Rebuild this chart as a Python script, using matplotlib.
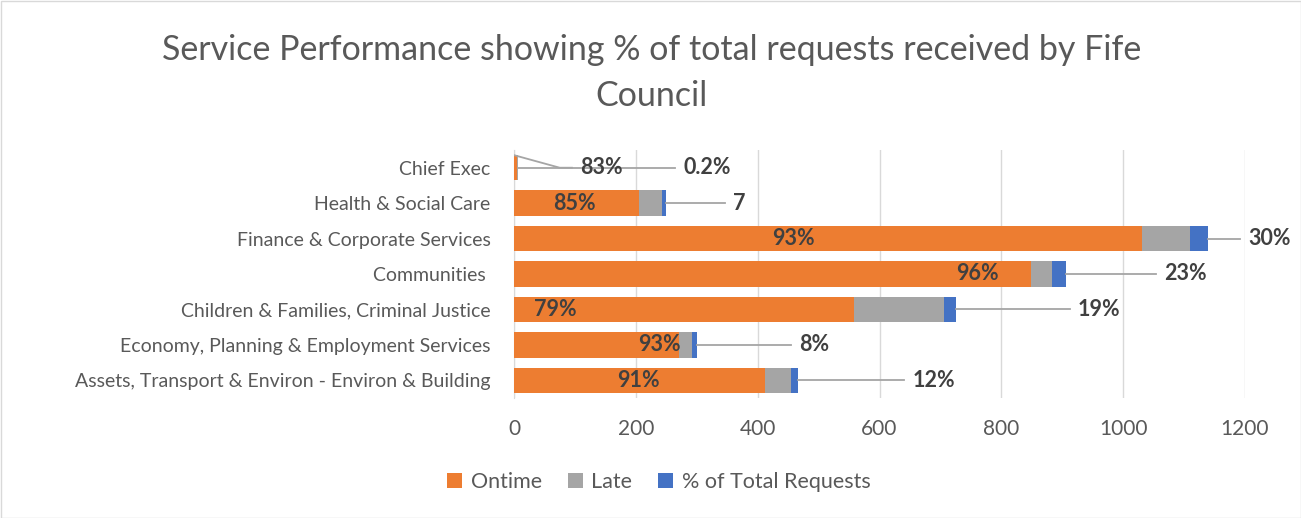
import matplotlib
matplotlib.use("Agg")
import matplotlib.pyplot as plt
from matplotlib.patches import Rectangle
import numpy as np

plt.rcParams['font.family'] = ['Lato', 'DejaVu Sans']

categories = ["Chief Exec", "Health & Social Care", "Finance & Corporate Services",
              "Communities ", "Children & Families, Criminal Justice",
              "Economy, Planning & Employment Services",
              "Assets, Transport & Environ - Environ & Building"]
ontime = [5, 205, 1031, 849, 558, 271, 412]
late = [1, 38, 79, 34, 148, 21, 43]
pct_total = [0.2, 7, 30, 23, 19, 8, 12]
ontime_labels = ["83%", "85%", "93%", "96%", "79%", "93%", "91%"]
pct_labels = ["0.2%", "7", "30%", "23%", "19%", "8%", "12%"]
# label anchors (data units) as placed in the original
ontime_label_x = [143, 100, 458, 760, 67, 238, 205]
leader_end_x = [265, 347, 1192, 1054, 913, 455, 641]

c_on, c_late, c_pct = "#ED7D31", "#A5A5A5", "#4472C4"
txt = "#595959"

fig = plt.figure(figsize=(13.01, 5.18), dpi=100)
fig.patches.append(Rectangle((0.5/1301, 0.5/518), 1 - 1/1301, 1 - 1/518,
                             transform=fig.transFigure, fill=False,
                             edgecolor="#D9D9D9", linewidth=1))
ax = fig.add_axes([514/1301, 1 - 398/518, 731/1301, 248/518])

y = np.arange(len(categories))
h = 0.72
ax.barh(y, ontime, height=h, color=c_on, label="Ontime", zorder=3)
ax.barh(y, late, left=ontime, height=h, color=c_late, label="Late", zorder=3)
left2 = np.array(ontime) + np.array(late)
ax.barh(y, pct_total, left=left2, height=h, color=c_pct,
        label="% of Total Requests", zorder=3)

ax.set_xlim(0, 1200)
ax.set_ylim(len(categories) - 0.5, -0.5)
ax.set_xticks(np.arange(0, 1201, 200))
ax.set_yticks(y)
ax.set_yticklabels(categories)
ax.tick_params(axis='both', length=0, colors=txt)
ax.tick_params(axis='x', pad=15, labelsize=15)
ax.tick_params(axis='y', pad=17, labelsize=14)
ax.grid(axis='x', color="#D9D9D9", linewidth=1, zorder=0)
for s in ["top", "right", "bottom"]:
    ax.spines[s].set_visible(False)
ax.spines["left"].set_color("#D9D9D9")

lab_col = "#404040"
for i in range(len(categories)):
    ax.text(ontime_label_x[i], y[i], ontime_labels[i], ha="center", va="center",
            fontsize=15.5, fontweight="bold", color=lab_col, zorder=5)
    end = left2[i] + pct_total[i]
    ax.plot([end, leader_end_x[i]], [y[i], y[i]], color="#A5A5A5", lw=1.3, zorder=4)
    ax.text(leader_end_x[i] + 13, y[i], pct_labels[i], ha="left", va="center",
            fontsize=15.5, fontweight="bold", color=lab_col, zorder=5, clip_on=False)

# leader line for the Chief Exec on-time label
ax.plot([1, 75, 95], [-0.35, 0.0, 0.0], color="#A5A5A5", lw=1.3, zorder=4)

fig.text(0.501, 1 - 50/518, "Service Performance showing % of total requests received by Fife",
         ha="center", va="center", fontsize=24.5, color=txt)
fig.text(0.501, 1 - 96/518, "Council", ha="center", va="center", fontsize=24.5, color=txt)

handles, labels = ax.get_legend_handles_labels()
fig.legend(handles, labels, loc="center", bbox_to_anchor=(0.5065, 1 - 482/518),
           ncol=3, frameon=False, fontsize=15.5, labelcolor=txt,
           handlelength=0.7, handleheight=0.7, handletextpad=0.4, columnspacing=1.2)

fig.savefig("out.png", dpi=100)
